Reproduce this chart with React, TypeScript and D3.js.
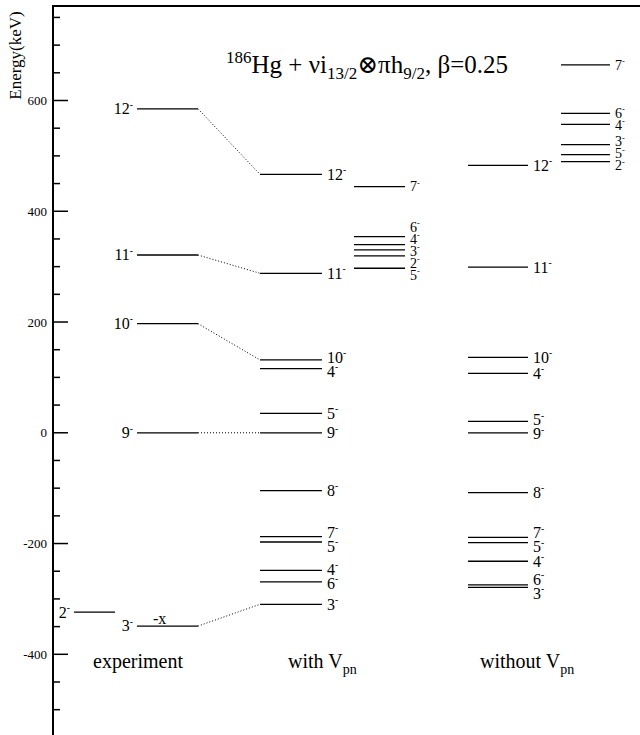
import React from "react";
import * as d3 from "d3";

// ---- Data (energies in keV, spins are negative parity) ----
const expSpins = ["12", "11", "10", "9", "3"];
const expEnergies = [585, 321, 197, 0, -349];
const expSideSpins = ["2"];
const expSideEnergies = [-324];

const withSpins = ["12", "11", "10", "4", "5", "9", "8", "7", "5", "4", "6", "3"];
const withEnergies = [466.7, 288, 131.5, 115.8, 35.2, 0, -104.5, -187.6, -197.2, -248.3, -269.4, -309.7];
const withSideSpins = ["7", "6", "4", "3", "2", "5"];
const withSideEnergies = [444.4, 354.2, 339.7, 330.2, 319.3, 297.1];

const woSpins = ["12", "11", "10", "4", "5", "9", "8", "7", "5", "4", "6", "3"];
const woEnergies = [483, 299, 136.3, 107.4, 20.7, 0, -108, -189, -198.4, -232, -274.8, -279];
const woSideSpins = ["7", "6", "4", "3", "5", "2"];
const woSideEnergies = [664.4, 576.9, 557, 520.3, 502.2, 489.6];

const linkSpins = ["12", "11", "10", "9", "3"];
const tickLabels = [-400, -200, 0, 200, 400, 600];

const W = 640;
const H = 735;
const FONT = "Liberation Serif, DejaVu Serif, serif";

const y = d3.scaleLinear().domain([-400, 600]).range([654.3, 100.5]);

function spread(ys: number[], gap: number): number[] {
  const idx = ys.map((v, i) => i).sort((a, b) => ys[a] - ys[b]);
  type Block = { items: number[]; top: number };
  const blocks: Block[] = [];
  for (const i of idx) {
    blocks.push({ items: [i], top: ys[i] });
    while (blocks.length > 1) {
      const cur = blocks[blocks.length - 1];
      const prev = blocks[blocks.length - 2];
      if (prev.top + prev.items.length * gap > cur.top) {
        const items = prev.items.concat(cur.items);
        const mean = d3.mean(items, (k) => ys[k]) as number;
        blocks.splice(blocks.length - 2, 2, { items, top: mean - ((items.length - 1) * gap) / 2 });
      } else break;
    }
  }
  const out = ys.slice();
  for (const b of blocks) b.items.forEach((k, j) => (out[k] = b.top + j * gap));
  return out;
}

function Label({ x, yy, spin, anchor, size }: { x: number; yy: number; spin: string; anchor: string; size: number }) {
  return (
    <text x={x} y={yy + 0.34 * size} textAnchor={anchor} fontSize={size} fontFamily={FONT} fill="#000">
      {spin}
      <tspan fontSize={size * 0.6} dy={-size * 0.42}>-</tspan>
    </text>
  );
}

function Column({
  spins, energies, x1, x2, side, size, gap,
}: { spins: string[]; energies: number[]; x1: number; x2: number; side: "left" | "right"; size: number; gap: number }) {
  const ys = energies.map((e) => y(e));
  const ly = spread(ys, gap);
  return (
    <g>
      {energies.map((e, i) => (
        <line key={"l" + i} x1={x1} x2={x2} y1={ys[i]} y2={ys[i]} stroke="#000" strokeWidth={1.3} />
      ))}
      {spins.map((s, i) => (
        <Label key={"t" + i} x={side === "right" ? x2 + 5 : x1 - 4} yy={ly[i]} spin={s}
          anchor={side === "right" ? "start" : "end"} size={size} />
      ))}
    </g>
  );
}

export default function App() {
  const ticks = d3.range(-550, 801, 50).filter((v) => y(v) > 6 && y(v) < H + 2);
  const expCol = { x1: 137, x2: 198 };
  const withCol = { x1: 260, x2: 322 };
  return (
    <svg width={W} height={H} style={{ position: "absolute", left: 0, top: 0, background: "#fff" }}>
      <rect x={0} y={0} width={W} height={H} fill="#fff" />
      {/* frame */}
      <line x1={53} x2={W} y1={6} y2={6} stroke="#000" strokeWidth={2} />
      <line x1={53} x2={53} y1={5} y2={H} stroke="#000" strokeWidth={2} />
      {ticks.map((v) => {
        const major = v % 200 === 0;
        return <line key={v} x1={53} x2={major ? 68 : 60} y1={y(v)} y2={y(v)} stroke="#000" strokeWidth={1.5} />;
      })}
      {tickLabels.map((v) => (
        <text key={v} x={47} y={y(v) + 4.5} textAnchor="end" fontSize={13} fontFamily={FONT}>{v}</text>
      ))}
      <text transform={`translate(21,55.5) rotate(-90)`} textAnchor="middle" fontSize={17} fontFamily={FONT}>Energy(keV)</text>

      {/* title */}
      <text x={226} y={73} fontSize={25} fontFamily={FONT}>
        <tspan fontSize={17} dy={-10}>186</tspan>
        <tspan fontSize={25} dy={10}>Hg + νi</tspan>
        <tspan fontSize={17} dy={6}>13/2</tspan>
        <tspan fontSize={25} dy={-6}>⊗πh</tspan>
        <tspan fontSize={17} dy={6}>9/2</tspan>
        <tspan fontSize={25} dy={-6}>, β=0.25</tspan>
      </text>

      {/* connectors */}
      {linkSpins.map((s) => {
        const ei = expSpins.indexOf(s);
        const wi = withSpins.indexOf(s);
        return (
          <line key={"c" + s} x1={expCol.x2} x2={withCol.x1} y1={y(expEnergies[ei])} y2={y(withEnergies[wi])}
            stroke="#000" strokeWidth={1} strokeDasharray="1 2" />
        );
      })}

      <Column spins={expSpins} energies={expEnergies} x1={137} x2={198} side="left" size={16} gap={14} />
      <Column spins={expSideSpins} energies={expSideEnergies} x1={74} x2={115} side="left" size={16} gap={14} />
      <Column spins={withSpins} energies={withEnergies} x1={260} x2={322} side="right" size={16} gap={14} />
      <Column spins={withSideSpins} energies={withSideEnergies} x1={354} x2={405} side="right" size={14} gap={12} />
      <Column spins={woSpins} energies={woEnergies} x1={468} x2={528} side="right" size={16} gap={14} />
      <Column spins={woSideSpins} energies={woSideEnergies} x1={561} x2={610} side="right" size={14} gap={12} />

      <text x={153} y={624} fontSize={16} fontFamily={FONT}>-x</text>

      <text x={93} y={668} fontSize={20} fontFamily={FONT}>experiment</text>
      <text x={288} y={668} fontSize={20} fontFamily={FONT}>
        with V<tspan fontSize={14} dy={6}>pn</tspan>
      </text>
      <text x={480} y={668} fontSize={20} fontFamily={FONT}>
        without V<tspan fontSize={14} dy={6}>pn</tspan>
      </text>
    </svg>
  );
}
